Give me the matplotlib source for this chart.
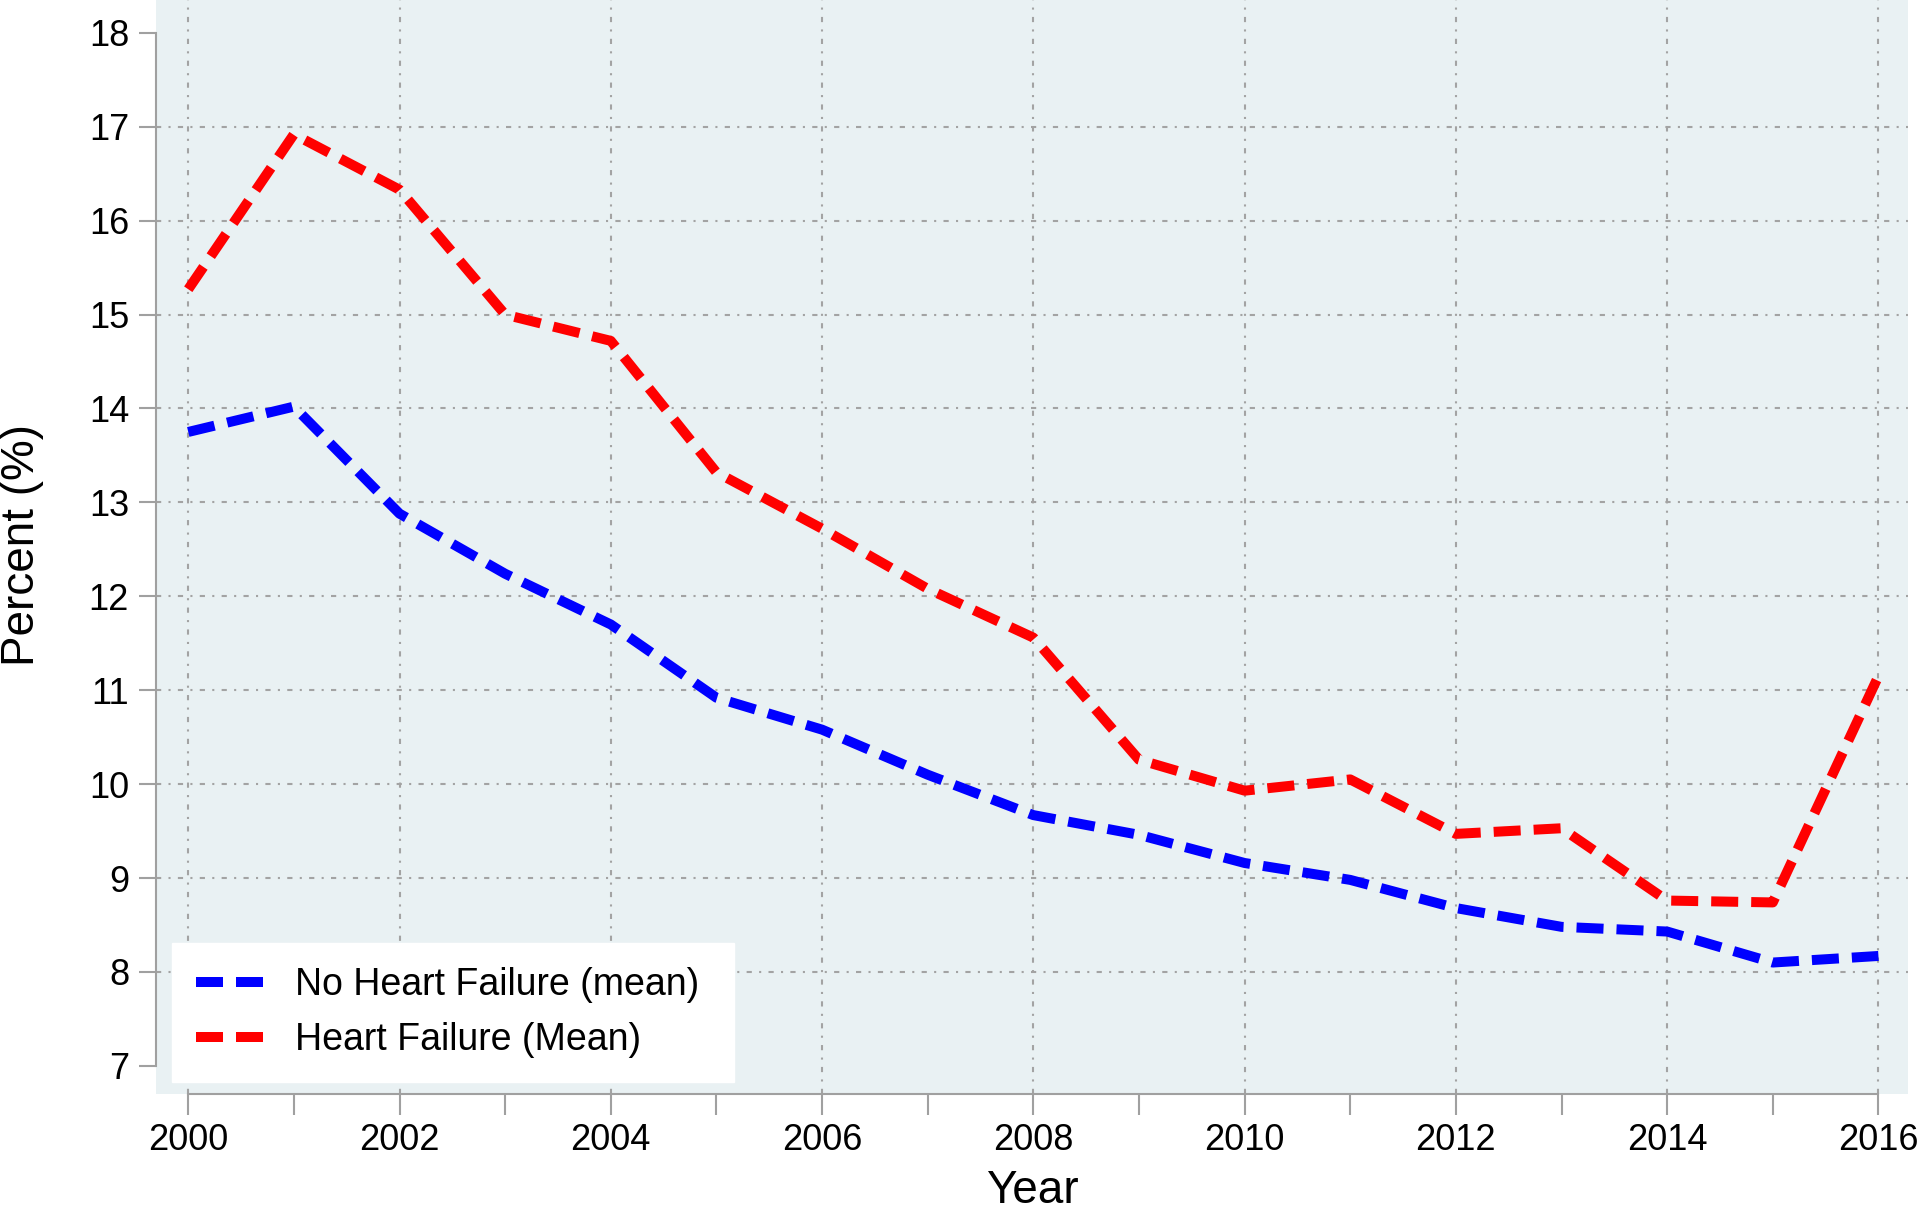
import matplotlib
matplotlib.use('Agg')
import matplotlib.pyplot as plt
from matplotlib.ticker import MultipleLocator

plt.rcParams['font.family'] = ['Liberation Sans', 'DejaVu Sans']

# data
years = [2000, 2001, 2002, 2003, 2004, 2005, 2006, 2007, 2008,
         2009, 2010, 2011, 2012, 2013, 2014, 2015, 2016]
no_hf_mean = [13.75, 14.02, 12.88, 12.24, 11.70, 10.92, 10.58, 10.10, 9.67,
              9.46, 9.16, 8.98, 8.68, 8.48, 8.43, 8.10, 8.17]
hf_mean = [15.27, 16.92, 16.33, 15.00, 14.72, 13.32, 12.72, 12.08, 11.56,
           10.26, 9.93, 10.05, 9.47, 9.53, 8.76, 8.74, 11.15]
labels = ['No Heart Failure (mean)', 'Heart Failure (Mean)']

grid_c = '#a3a3a3'
axis_c = '#a0a0a0'

fig = plt.figure(figsize=(19.2, 12.14), dpi=100)
ax = fig.add_axes([155.5 / 1920, 1 - 1094 / 1214, (1908 - 155.5) / 1920, 1094 / 1214])
ax.set_facecolor('#e9f1f3')

ax.plot(years, no_hf_mean, color='#0000ff', lw=7.2, dashes=(2.7, 1.3),
        solid_capstyle='butt', dash_capstyle='butt', label=labels[0], zorder=3)
ax.plot(years, hf_mean, color='#ff0000', lw=7.2, dashes=(2.7, 1.3),
        solid_capstyle='butt', dash_capstyle='butt', label=labels[1], zorder=3)

ax.set_xlim(1999.69, 2016.28)
ax.set_ylim(6.70, 18.35)

ax.set_xticks(range(2000, 2017, 2))
ax.set_yticks(range(7, 19))

# grid lines (Stata style)
grid_ls = (0, (2.5, 3.5, 1, 3.5))
for y in range(8, 18):
    ax.axhline(y, color=grid_c, lw=1.5, ls=grid_ls, zorder=1)
for x in range(2000, 2017, 2):
    ax.axvline(x, color=grid_c, lw=1.5, ls=grid_ls, zorder=1)

for s in ['top', 'right']:
    ax.spines[s].set_visible(False)
ax.spines['left'].set_bounds(7, 18)
ax.spines['bottom'].set_bounds(2000, 2016)
for s in ['left', 'bottom']:
    ax.spines[s].set_color(axis_c)
    ax.spines[s].set_linewidth(1.5)

ax.tick_params(axis='y', which='major', length=12, width=1.5, color=axis_c,
               labelsize=26, pad=7)
ax.tick_params(axis='x', which='both', length=15, width=1.5, color=axis_c,
               labelsize=26, pad=6)
ax.minorticks_on()
ax.yaxis.set_minor_locator(plt.NullLocator())
ax.xaxis.set_minor_locator(MultipleLocator(1))
ax.tick_params(axis='x', which='minor', length=15, width=1.5, color=axis_c)

leg = ax.legend(loc='lower left',
                bbox_to_anchor=(16 / 1752.5, 12 / 1094, 563 / 1752.5, 138 / 1094),
                mode='expand', fontsize=27, frameon=True, fancybox=False,
                borderpad=0.64, labelspacing=0.51, handlelength=1.85,
                handletextpad=0.8, borderaxespad=0)
leg.get_frame().set_facecolor('white')
leg.get_frame().set_edgecolor('white')
leg.get_frame().set_alpha(1)

fig.text(1032 / 1920, 1 - 1213 / 1214, 'Year', ha='center', va='bottom', fontsize=33)
fig.text(22 / 1920, 1 - 545 / 1214, 'Percent (%)', ha='center', va='center',
         rotation=90, fontsize=33)

fig.savefig('out.png', dpi=100, facecolor='white')
